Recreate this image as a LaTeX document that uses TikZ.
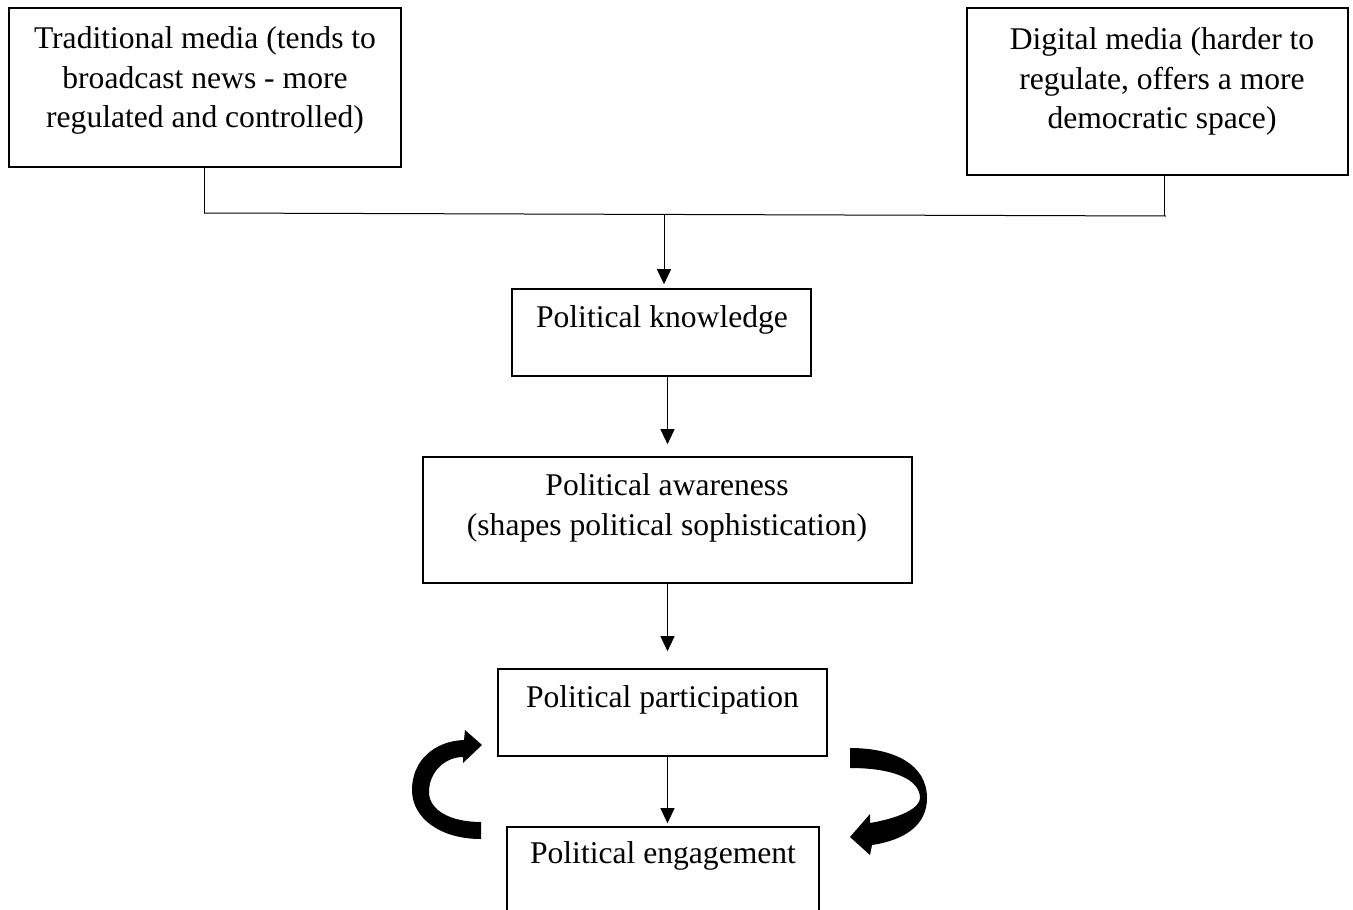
\documentclass[tikz,border=0pt]{standalone}
\usepackage{fontspec}
\setmainfont{Liberation Serif}
\usetikzlibrary{arrows.meta,calc}
\begin{document}
\begin{tikzpicture}[x=1pt,y=-1pt,
  box/.style={draw,line width=1.6pt,inner sep=0pt},
  txt/.style={font=\fontsize{31.6}{39}\selectfont,inner sep=0pt,anchor=base},
  link/.style={line width=1pt},
  flow/.style={line width=1pt,-{Triangle[width=14pt,length=15pt]}}]
\clip (0,0) rectangle (1353,910);
\fill[white] (0,0) rectangle (1353,910);
% boxes
\node[box,minimum width=392pt,minimum height=159pt] (trad) at (205,87.5) {};
\node[box,minimum width=381pt,minimum height=167pt] (dig) at (1157.5,91.5) {};
\node[box,minimum width=299pt,minimum height=87pt] (kn) at (661.5,332.5) {};
\node[box,minimum width=489pt,minimum height=126pt] (aw) at (667.5,520) {};
\node[box,minimum width=329pt,minimum height=87pt] (pa) at (662.5,712.5) {};
\node[box,minimum width=312pt,minimum height=173pt] (en) at (663,913.5) {};
% texts
\node[txt] (trad1) at (205,48) {Traditional media (tends to};
\node[txt] (trad2) at (205,88) {broadcast news - more};
\node[txt] (trad3) at (205,127) {regulated and controlled)};
\node[txt] (dig1) at (1162,49) {Digital media (harder to};
\node[txt] (dig2) at (1162,89) {regulate, offers a more};
\node[txt] (dig3) at (1162,128) {democratic space)};
\node[txt] (kn1) at (662,327) {Political knowledge};
\node[txt] (aw1) at (667,495) {Political awareness};
\node[txt] (aw2) at (667,535) {(shapes political sophistication)};
\node[txt] (pa1) at (662.5,707) {Political participation};
\node[txt] (en1) at (663,863) {Political engagement};
% junction
\coordinate (jl) at (204,213);
\coordinate (jr) at (1166,216);
\coordinate (jm) at (664,214.5);
\draw[link] (trad.south -| jl) -- (jl);
\draw[link] ([xshift=-2pt]dig.south -| jr) -- ([xshift=-2pt]jr);
\draw[link] (jl) -- (jr);
\draw[flow,shorten >=4pt] (jm) -- (jm |- kn.north);
\draw[flow,shorten >=12pt] (kn.south -| aw.north) -- (aw.north);
\draw[flow,shorten >=17pt] (aw.south) -- (aw.south |- pa.north);
\draw[flow,shorten >=3pt] (pa.south -| aw.south) -- (en.north -| aw.south);
% thick curved arrows
\fill (481,839) .. controls (440,839) and (412,818) .. (412,790)
  .. controls (412,760) and (435,741) .. (464,740) -- (465,730) -- (482,745)
  -- (463,763) -- (463,757) .. controls (445,757) and (429,772) .. (429,792)
  .. controls (429,810) and (450,822) .. (481,822) -- cycle;
\fill (850,748) .. controls (895,748) and (927,765) .. (927,798)
  .. controls (927,825) and (905,840) .. (872,845) -- (870,855) -- (850,837)
  -- (870,814) -- (870,823) .. controls (900,818) and (920,808) .. (920,798)
  .. controls (920,780) and (895,768) .. (850,768) -- cycle;
\end{tikzpicture}
\end{document}
